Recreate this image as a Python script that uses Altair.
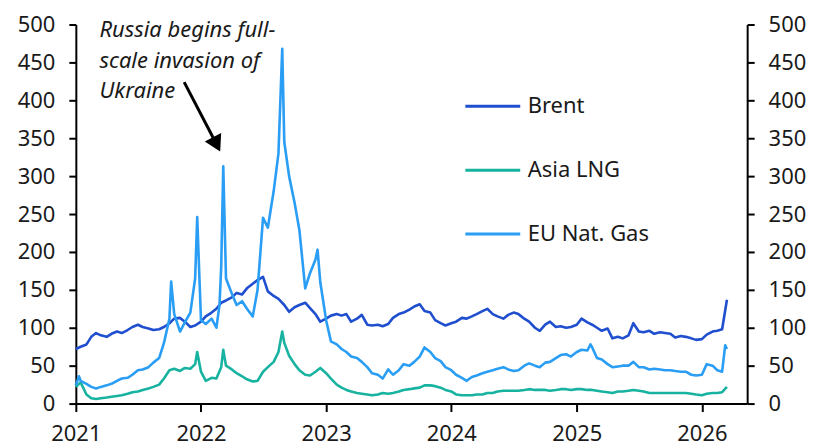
import altair as alt
import pandas as pd

# ---------------- data ----------------
series_names = ["Brent", "Asia LNG", "EU Nat. Gas"]
series_colors = ["#1f4fcf", "#17b3a0", "#2a9df4"]

# semi-monthly sampling grid (1st and 15th of each month)
grid_dates = pd.date_range("2021-01-01", "2026-03-15", freq="SMS")

brent = [
    72, 75, 78, 88, 93, 90, 88, 92, 95, 93, 97, 101, 104, 101, 99, 97, 98, 101, 106, 112, 113, 108, 101, 103,
    108, 115, 120, 125, 133, 136, 140, 146, 144, 152, 158, 163, 167, 148, 142, 138, 130, 121, 127, 130, 133, 126, 118, 108,
    112, 116, 118, 116, 118, 108, 112, 117, 104, 103, 104, 102, 105, 113, 118, 120, 124, 128, 131, 122, 120, 110, 106, 103,
    106, 108, 113, 112, 115, 118, 122, 125, 118, 115, 112, 117, 120, 118, 112, 108, 100, 96, 104, 108, 101, 102, 100, 101,
    104, 112, 107, 104, 100, 96, 99, 86, 88, 86, 90, 106, 95, 94, 96, 92, 94, 93, 92, 87, 89, 88, 86, 84,
    85, 91, 95, 96, 98, 137,
]
lng = [
    22, 28, 12, 7, 6, 7, 8, 9, 10, 11, 13, 15, 16, 18, 20, 22, 25, 33, 44, 46, 43, 47, 46, 52,
    42, 30, 34, 33, 48, 50, 45, 40, 36, 32, 29, 30, 42, 48, 55, 68, 80, 63, 52, 44, 38, 37, 42, 47,
    40, 33, 25, 21, 18, 16, 14, 13, 12, 11, 12, 14, 13, 14, 16, 18, 19, 20, 21, 24, 24, 23, 21, 18,
    16, 12, 11, 11, 11, 12, 12, 14, 14, 16, 17, 17, 17, 17, 18, 19, 18, 18, 18, 17, 18, 19, 19, 18,
    19, 19, 18, 18, 17, 16, 15, 14, 16, 16, 17, 18, 17, 16, 14, 14, 14, 14, 14, 14, 14, 14, 13, 12,
    11, 13, 14, 14, 15, 22,
]
gas = [
    24, 30, 26, 22, 20, 22, 24, 26, 30, 33, 34, 38, 44, 45, 48, 54, 60, 80, 112, 118, 95, 107, 120, 165,
    110, 105, 112, 100, 180, 165, 145, 130, 135, 125, 115, 150, 245, 232, 280, 330, 345, 300, 265, 229, 152, 172, 190, 160,
    110, 82, 78, 72, 68, 62, 60, 55, 48, 40, 38, 33, 45, 38, 44, 52, 50, 55, 62, 74, 68, 60, 56, 48,
    44, 38, 34, 30, 35, 37, 40, 42, 44, 46, 48, 45, 43, 44, 50, 53, 50, 48, 54, 55, 60, 64, 65, 62,
    68, 71, 70, 74, 60, 58, 52, 48, 49, 50, 50, 55, 48, 48, 45, 46, 45, 44, 44, 43, 42, 42, 38, 37,
    38, 52, 50, 44, 42, 72,
]

# short-lived spikes between grid dates
lng_extra_dates = ["2021-12-21", "2022-03-07", "2022-08-26"]
lng_extra_vals = [68, 71, 95]
gas_extra_dates = ["2021-01-10", "2021-10-06", "2021-12-21", "2022-02-24", "2022-03-07",
                   "2022-08-26", "2022-12-07", "2025-02-10", "2026-03-10"]
gas_extra_vals = [36, 161, 246, 130, 313, 468, 203, 78, 77]

year_ticks = [2021, 2022, 2023, 2024, 2025, 2026]
y_ticks = list(range(0, 501, 50))

note_text = "Russia begins full-\nscale invasion of\nUkraine"

# ---------------- build table ----------------
frames = []
for name, vals, ex_d, ex_v in [
    ("Brent", brent, [], []),
    ("Asia LNG", lng, lng_extra_dates, lng_extra_vals),
    ("EU Nat. Gas", gas, gas_extra_dates, gas_extra_vals),
]:
    assert len(vals) == len(grid_dates), (name, len(vals), len(grid_dates))
    d = pd.DataFrame({"date": list(grid_dates) + list(pd.to_datetime(ex_d)),
                      "value": list(vals) + list(ex_v)})
    d = d.sort_values("date")
    d["series"] = name
    frames.append(d)
df = pd.concat(frames, ignore_index=True)
df["date"] = df["date"].dt.strftime("%Y-%m-%d")
df["order"] = range(len(df))

FONT = "Noto Sans"
TXT = "#1a1a1a"

x_scale = alt.Scale(domain=[alt.DateTime(year=2021, month=1, date=1),
                            alt.DateTime(year=2026, month=5, date=13)], nice=False)
y_scale = alt.Scale(domain=[0, 500], nice=False, zero=False)

x_axis = alt.Axis(values=[alt.DateTime(year=y, month=1, date=1) for y in year_ticks],
                  format="%Y", title=None, grid=False, labelFontSize=22, labelFont=FONT,
                  labelColor=TXT, tickSize=8, tickWidth=2, tickColor="black",
                  domainColor="black", domainWidth=2, labelPadding=12, labelFlush=False)

def y_axis(orient):
    return alt.Axis(values=y_ticks, orient=orient, title=None, grid=False, labelFontSize=22,
                    labelFont=FONT, labelColor=TXT, tickSize=7, tickWidth=2, tickColor="black",
                    domainColor="black", domainWidth=2, labelPadding=14, labelFlush=False)

X = alt.X("date:T", scale=x_scale, axis=x_axis)

lines = alt.Chart(df).mark_line(strokeWidth=2.6, strokeJoin="round").encode(
    x=X,
    y=alt.Y("value:Q", scale=y_scale, axis=y_axis("left")),
    color=alt.Color("series:N", scale=alt.Scale(domain=series_names, range=series_colors),
                    legend=alt.Legend(title=None, orient="none", legendX=389, legendY=53,
                                      direction="vertical", symbolType="stroke",
                                      symbolSize=3025, symbolStrokeWidth=3,
                                      labelFont=FONT, labelFontSize=22, labelColor=TXT,
                                      rowPadding=24, labelOffset=6)),
    order="order:Q",
)

right = alt.Chart(df).mark_line(strokeOpacity=0).encode(
    x=X,
    y=alt.Y("value:Q", scale=y_scale, axis=y_axis("right")),
    detail="series:N",
)

note_df = pd.DataFrame({"date": ["2021-03-11"], "value": [483], "text": [note_text]})
note = alt.Chart(note_df).mark_text(align="left", baseline="alphabetic", fontStyle="italic",
                                    font=FONT, fontSize=22, lineBreak="\n", lineHeight=30.5,
                                    color=TXT).encode(
    x=X, y=alt.Y("value:Q", scale=y_scale, axis=None), text="text:N")

arrow_df = pd.DataFrame({"date": ["2021-11-13"], "value": [424],
                         "date2": ["2022-02-12"], "value2": [345]})
shaft = alt.Chart(arrow_df).mark_rule(color="black", strokeWidth=3).encode(
    x=X, y=alt.Y("value:Q", scale=y_scale, axis=None), x2="date2:T", y2="value2:Q")
head = alt.Chart(arrow_df).mark_point(shape="triangle", angle=153, filled=True, size=340,
                                      color="black", opacity=1).encode(
    x=alt.X("date2:T", scale=x_scale, axis=x_axis),
    y=alt.Y("value2:Q", scale=y_scale, axis=None))

chart = alt.layer(lines, right, note, shaft, head).resolve_axis(y="independent").properties(
    width=673, height=380,
    autosize=alt.AutoSizeParams(type="none"),
    padding={"left": 68, "top": 16, "right": 64, "bottom": 44},
).configure_view(stroke=None)

chart.save("out.html", embed_options={"renderer": "svg", "actions": False})
